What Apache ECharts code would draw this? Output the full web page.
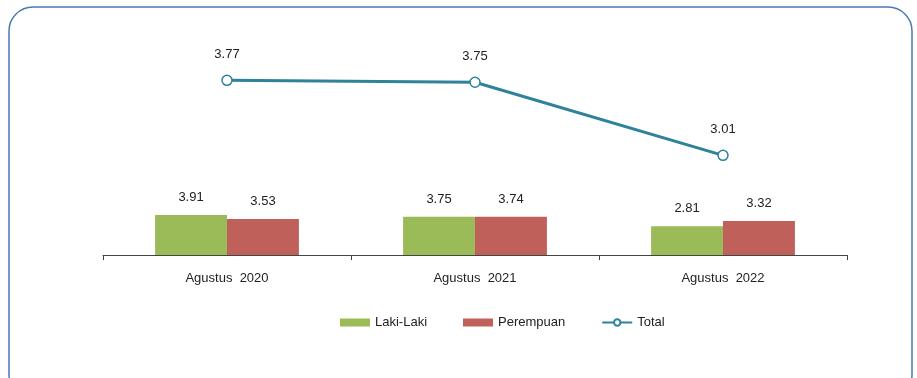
<!DOCTYPE html>
<html>
<head>
<meta charset="utf-8">
<script src="https://cdn.jsdelivr.net/npm/echarts@6/dist/echarts.min.js"></script>
<style>
  html, body { margin: 0; padding: 0; background: #fff; }
  #chart { width: 917px; height: 378px; }
</style>
</head>
<body>
<div id="chart"></div>
<script>
const categories = ['Agustus  2020', 'Agustus  2021', 'Agustus  2022'];
const lakiLaki = [3.91, 3.75, 2.81];
const perempuan = [3.53, 3.74, 3.32];
const total = [3.77, 3.75, 3.01];

const font = '"Liberation Sans", Arial, sans-serif';
const chart = echarts.init(document.getElementById('chart'));

const labelStyle = {
  show: true,
  position: 'top',
  distance: 11,
  color: '#222',
  fontFamily: font,
  fontSize: 13
};

chart.setOption({
  animation: false,
  graphic: [{
    type: 'rect',
    shape: { x: 9, y: 7, width: 903, height: 392, r: 24 },
    style: { fill: 'none', stroke: '#4a7bb0', lineWidth: 1.5 },
    silent: true
  }],
  grid: { left: 103, right: 70, top: 30, bottom: 123 },
  legend: {
    bottom: 44,
    left: 335,
    itemWidth: 30,
    itemHeight: 8,
    itemGap: 36,
    textStyle: { fontFamily: font, fontSize: 13, color: '#222' },
    data: [
      { name: 'Laki-Laki', icon: 'rect' },
      { name: 'Perempuan', icon: 'rect' },
      { name: 'Total' }
    ]
  },
  xAxis: {
    type: 'category',
    data: categories,
    axisLine: { lineStyle: { color: '#444', width: 1 } },
    axisTick: { show: true, length: 5, lineStyle: { color: '#444' } },
    axisLabel: { color: '#222', fontFamily: font, fontSize: 13, margin: 17 }
  },
  yAxis: [
    { type: 'value', min: 0, max: 22, show: false, splitLine: { show: false } },
    { type: 'value', min: 2, max: 4.28, show: false, splitLine: { show: false } }
  ],
  series: [
    {
      name: 'Laki-Laki',
      type: 'bar',
      data: lakiLaki,
      barGap: '0%',
      barCategoryGap: '42%',
      itemStyle: { color: '#9bbb59' },
      label: labelStyle
    },
    {
      name: 'Perempuan',
      type: 'bar',
      data: perempuan,
      itemStyle: { color: '#c0605b' },
      label: labelStyle
    },
    {
      name: 'Total',
      type: 'line',
      yAxisIndex: 1,
      data: total,
      symbol: 'circle',
      symbolSize: 10,
      lineStyle: { color: '#2e8299', width: 3 },
      itemStyle: { color: '#fff', borderColor: '#2e8299', borderWidth: 1.5 },
      label: Object.assign({}, labelStyle, { distance: 14 })
    }
  ]
});
</script>
</body>
</html>
